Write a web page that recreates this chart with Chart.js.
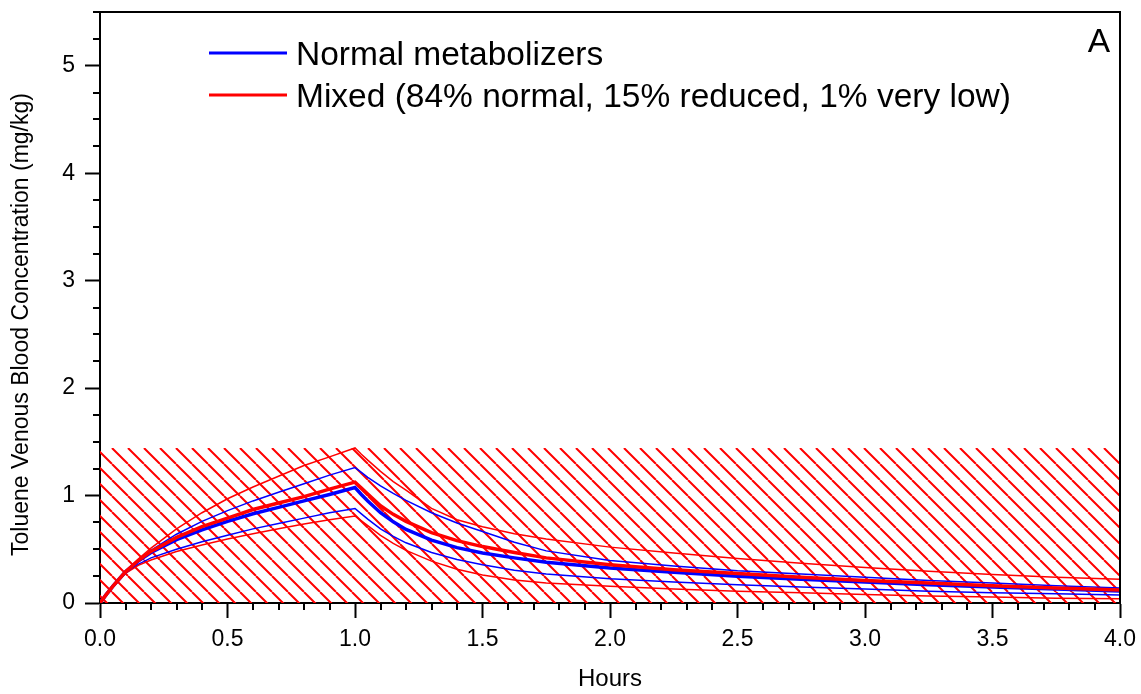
<!DOCTYPE html>
<html>
<head>
<meta charset="utf-8">
<title>Toluene venous blood concentration</title>
<script src="https://cdn.jsdelivr.net/npm/chart.js@4.4.1/dist/chart.umd.min.js"></script>
<style>
  html, body { margin: 0; padding: 0; background: #ffffff; }
  canvas { display: block; }
</style>
</head>
<body>
<canvas id="chart" width="1141" height="694"></canvas>
<script>
// Sampling times (hours): 1 h exposure followed by washout
const hours = [0, 0.025, 0.05, 0.1, 0.15, 0.2, 0.3, 0.4, 0.5, 0.6, 0.7, 0.8, 0.9, 1.0,
               1.025, 1.05, 1.1, 1.15, 1.2, 1.3, 1.4, 1.5, 1.625, 1.75, 2.0, 2.25, 2.5,
               2.75, 3.0, 3.25, 3.5, 3.75, 4.0];

// Normal metabolizers: median and lower / upper percentile (mg/kg)
const normalMedian = [0, 0.08, 0.155, 0.29, 0.39, 0.47, 0.59, 0.68, 0.76, 0.83, 0.89, 0.95, 1.01, 1.075,
                      1.01, 0.95, 0.84, 0.755, 0.685, 0.585, 0.515, 0.465, 0.42, 0.38, 0.325, 0.285, 0.25,
                      0.22, 0.195, 0.17, 0.15, 0.13, 0.112];
const normalLower  = [0, 0.075, 0.15, 0.28, 0.36, 0.42, 0.50, 0.57, 0.63, 0.69, 0.74, 0.79, 0.84, 0.88,
                      0.83, 0.78, 0.69, 0.62, 0.56, 0.47, 0.405, 0.355, 0.305, 0.27, 0.225, 0.195, 0.17,
                      0.15, 0.13, 0.11, 0.095, 0.085, 0.075];
const normalUpper  = [0, 0.08, 0.155, 0.29, 0.40, 0.49, 0.64, 0.76, 0.86, 0.95, 1.03, 1.11, 1.19, 1.26,
                      1.215, 1.17, 1.09, 1.02, 0.955, 0.84, 0.745, 0.665, 0.565, 0.485, 0.395, 0.345, 0.30,
                      0.27, 0.24, 0.21, 0.185, 0.16, 0.14];

// Mixed population (84% normal, 15% reduced, 1% very low)
const mixedMedian = [0, 0.08, 0.155, 0.29, 0.395, 0.48, 0.61, 0.71, 0.79, 0.87, 0.93, 0.99, 1.06, 1.125,
                     1.07, 1.015, 0.905, 0.825, 0.76, 0.655, 0.58, 0.525, 0.47, 0.42, 0.355, 0.31, 0.275,
                     0.24, 0.21, 0.185, 0.16, 0.14, 0.122];
const mixedLower  = [0, 0.075, 0.15, 0.275, 0.35, 0.40, 0.48, 0.54, 0.595, 0.645, 0.69, 0.735, 0.775, 0.81,
                     0.765, 0.72, 0.63, 0.555, 0.49, 0.39, 0.315, 0.26, 0.215, 0.185, 0.155, 0.13, 0.11,
                     0.095, 0.08, 0.065, 0.055, 0.045, 0.04];
const mixedUpper  = [0, 0.08, 0.155, 0.295, 0.41, 0.51, 0.69, 0.84, 0.97, 1.08, 1.18, 1.28, 1.36, 1.443,
                     1.385, 1.33, 1.225, 1.13, 1.05, 0.88, 0.775, 0.71, 0.645, 0.595, 0.52, 0.465, 0.415,
                     0.37, 0.33, 0.295, 0.265, 0.24, 0.22];

// Hatched envelope of the mixed population
const hatchHours = [0, 4];
const hatchTop = [1.443, 1.443];

// Axis ticks
const xTicks = [0, 0.5, 1.0, 1.5, 2.0, 2.5, 3.0, 3.5, 4.0];
const yTicks = [0, 1, 2, 3, 4, 5];
const xMinorStep = 0.1;
const yMinorStep = 0.25;

const seriesNames = ['Normal metabolizers', 'Mixed (84% normal, 15% reduced, 1% very low)'];
const panelLabel = 'A';
const xTitle = 'Hours';
const yTitle = 'Toluene Venous Blood Concentration (mg/kg)';

const FONT = '"Liberation Sans", Arial, Helvetica, sans-serif';
const BLUE = '#0000ff';
const RED = '#ff0000';

const pts = (xs, ys) => xs.map((x, i) => ({ x, y: ys[i] }));

function makeHatch(color, spacing, width) {
  const tile = document.createElement('canvas');
  tile.width = spacing;
  tile.height = spacing;
  const g = tile.getContext('2d');
  g.strokeStyle = color;
  g.lineWidth = width;
  g.beginPath();
  for (let k = -1; k <= 1; k++) {
    g.moveTo(k * spacing, 0);
    g.lineTo(k * spacing + spacing, spacing);
  }
  g.stroke();
  return g.createPattern(tile, 'repeat');
}

function lineSet(label, ys, color, width, order) {
  return {
    label,
    data: pts(hours, ys),
    borderColor: color,
    backgroundColor: color,
    borderWidth: width,
    pointRadius: 0,
    tension: 0,
    fill: false,
    order
  };
}

// Top/right frame, minor tick marks and the vertical axis title
const frameAndMinorTicks = {
  id: 'frameAndMinorTicks',
  afterDraw(chart) {
    const { ctx, chartArea: a, scales: { x, y } } = chart;
    ctx.save();
    ctx.strokeStyle = '#000';
    ctx.lineWidth = 2;
    ctx.beginPath();
    ctx.moveTo(a.left - 1, a.top);
    ctx.lineTo(a.right, a.top);
    ctx.lineTo(a.right, a.bottom);
    ctx.stroke();

    ctx.beginPath();
    const nx = Math.round((x.max - x.min) / xMinorStep);
    for (let i = 0; i <= nx; i++) {
      const v = x.min + i * xMinorStep;
      if (xTicks.some(t => Math.abs(t - v) < 1e-6)) continue;
      const px = Math.round(x.getPixelForValue(v));
      ctx.moveTo(px, a.bottom);
      ctx.lineTo(px, a.bottom + 7);
    }
    const ny = Math.round((y.max - y.min) / yMinorStep);
    for (let i = 0; i <= ny; i++) {
      const v = y.min + i * yMinorStep;
      if (yTicks.some(t => Math.abs(t - v) < 1e-6)) continue;
      const py = Math.round(y.getPixelForValue(v));
      ctx.moveTo(a.left, py);
      ctx.lineTo(a.left - 7, py);
    }
    ctx.stroke();

    // vertical axis title, centred a little below the middle of the axis
    ctx.translate(22, (a.top + a.bottom) / 2 + 17);
    ctx.rotate(-Math.PI / 2);
    ctx.font = '23px ' + FONT;
    ctx.fillStyle = '#000';
    ctx.textAlign = 'center';
    ctx.textBaseline = 'middle';
    ctx.fillText(yTitle, 0, 0);
    ctx.restore();
  }
};

// In-plot legend and panel letter
const legendAndPanel = {
  id: 'legendAndPanel',
  afterDraw(chart) {
    const { ctx, chartArea: a } = chart;
    ctx.save();
    ctx.font = '33.5px ' + FONT;
    ctx.fillStyle = '#000';
    ctx.textBaseline = 'alphabetic';
    ctx.textAlign = 'left';
    const colors = [BLUE, RED];
    const x0 = a.left + 109;
    const rows = [a.top + 41, a.top + 83];
    seriesNames.forEach((name, i) => {
      const yy = rows[i];
      ctx.strokeStyle = colors[i];
      ctx.lineWidth = 3;
      ctx.beginPath();
      ctx.moveTo(x0, yy);
      ctx.lineTo(x0 + 78, yy);
      ctx.stroke();
      ctx.fillText(name, x0 + 87, yy + 12);
    });
    ctx.textAlign = 'right';
    ctx.fillText(panelLabel, a.right - 10, a.top + 40);
    ctx.restore();
  }
};

new Chart(document.getElementById('chart'), {
  type: 'line',
  data: {
    datasets: [
      lineSet(seriesNames[1], mixedMedian, RED, 3.5, 1),
      lineSet(seriesNames[0], normalMedian, BLUE, 3.5, 2),
      lineSet('Mixed 95th', mixedUpper, RED, 1.5, 3),
      lineSet('Mixed 5th', mixedLower, RED, 1.5, 3),
      lineSet('Normal 95th', normalUpper, BLUE, 1.5, 4),
      lineSet('Normal 5th', normalLower, BLUE, 1.5, 4),
      {
        label: 'Mixed envelope',
        data: pts(hatchHours, hatchTop),
        fill: 'origin',
        backgroundColor: makeHatch(RED, 16, 2),
        borderColor: 'rgba(0,0,0,0)',
        borderWidth: 0,
        pointRadius: 0,
        tension: 0,
        order: 10
      }
    ]
  },
  options: {
    responsive: false,
    devicePixelRatio: 1,
    animation: false,
    layout: { padding: { top: 12, right: 21, left: 0, bottom: 0 } },
    plugins: {
      legend: { display: false },
      tooltip: { enabled: false }
    },
    scales: {
      x: {
        type: 'linear',
        min: 0,
        max: 4,
        afterBuildTicks: s => { s.ticks = xTicks.map(v => ({ value: v })); },
        afterFit: s => { s.height = 91; s.paddingLeft = 0; s.paddingRight = 0; },
        ticks: {
          callback: v => Number(v).toFixed(1),
          color: '#000',
          font: { family: FONT, size: 23 },
          padding: 8,
          maxRotation: 0,
          autoSkip: false
        },
        grid: {
          drawOnChartArea: false,
          drawTicks: true,
          tickLength: 15,
          tickWidth: 2,
          tickColor: '#000'
        },
        border: { color: '#000', width: 2 },
        title: {
          display: true,
          text: xTitle,
          color: '#000',
          font: { family: FONT, size: 24 },
          padding: { top: 0, bottom: 0 }
        }
      },
      y: {
        type: 'linear',
        min: 0,
        max: 5.5,
        afterBuildTicks: s => { s.ticks = yTicks.map(v => ({ value: v })); },
        afterFit: s => { s.width = 100; s.paddingTop = 0; s.paddingBottom = 0; },
        ticks: {
          callback: v => String(v),
          color: '#000',
          font: { family: FONT, size: 23 },
          padding: 10,
          autoSkip: false
        },
        grid: {
          drawOnChartArea: false,
          drawTicks: true,
          tickLength: 15,
          tickWidth: 2,
          tickColor: '#000'
        },
        border: { color: '#000', width: 2 },
        title: { display: false }
      }
    }
  },
  plugins: [frameAndMinorTicks, legendAndPanel]
});
</script>
</body>
</html>
